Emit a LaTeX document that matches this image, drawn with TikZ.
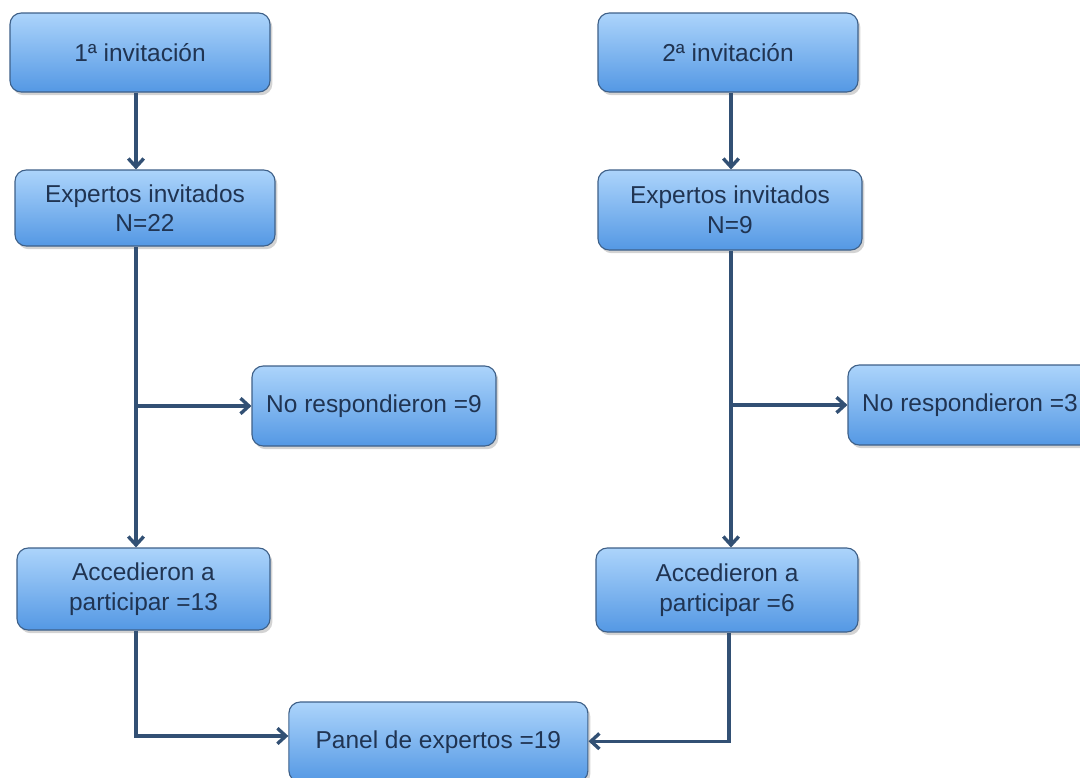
\documentclass[tikz,border=0pt]{standalone}
\usepackage{fontspec}
\setmainfont{Liberation Sans}
\usepackage{xcolor}
\usepackage{tikz}
\usetikzlibrary{arrows.meta, positioning, calc, shadows}
\definecolor{boxtop}{RGB}{172,212,251}
\definecolor{boxbot}{RGB}{84,152,228}
\definecolor{boxedge}{RGB}{62,96,136}
\definecolor{linkcol}{RGB}{50,80,116}
\definecolor{textcol}{RGB}{32,52,82}
\tikzset{
  stage/.style    = {rectangle, rounded corners=8pt, draw=boxedge, line width=0.8pt,
                     top color=boxtop, bottom color=boxbot,
                     minimum width=#1, minimum height=2cm, align=center,
                     font=\fontsize{17.4}{21}\selectfont\color{textcol},
                     drop shadow={shadow xshift=0.06cm, shadow yshift=-0.08cm,
                                  opacity=0.35}},
  stage/.default  = 6.5cm,
  arrow/.style    = {-{Straight Barb[length=6pt, width=11pt]},
                     line width=2.4pt, color=linkcol},
}
\begin{document}
\begin{tikzpicture}

  \useasboundingbox (0,0) rectangle (27,-19.425);

  %─── First invitation (left column) ────────────────────────────────────────
  \node[stage, minimum height=1.975cm] at (3.5, -1.3125)   (inv1) {1ª invitación};
  \node[stage, minimum height=1.9cm]   at (3.625, -5.2)    (exp1) {Expertos invitados\\N=22};
  \node[stage=6.1cm]                   at (9.35, -10.15)   (nr1)  {No respondieron =9};
  \node[stage=6.325cm, minimum height=2.05cm] at (3.5875, -14.725) (acc1) {Accedieron a\\participar =13};

  %─── Second invitation (right column) ──────────────────────────────────────
  \node[stage, minimum height=1.975cm] at (18.2, -1.3125)  (inv2) {2ª invitación};
  \node[stage=6.6cm]                   at (18.25, -5.25)   (exp2) {Expertos invitados\\N=9};
  \node[stage=6.1cm]                   at (24.25, -10.125) (nr2)  {No respondieron =3};
  \node[stage=6.55cm, minimum height=2.1cm] at (18.175, -14.75) (acc2) {Accedieron a\\participar =6};

  %─── Panel (bottom centre) ─────────────────────────────────────────────────
  \node[stage=7.475cm] at (10.96, -18.55) (panel) {Panel de expertos =19};

  %─── Spines ────────────────────────────────────────────────────────────────
  \coordinate (lspine) at (3.4, 0);
  \coordinate (rspine) at (18.275, 0);
  \coordinate (j1) at (lspine |- nr1.west);
  \coordinate (j2) at (rspine |- nr2.west);

  %─── Edges ─────────────────────────────────────────────────────────────────
  % Left column
  \draw[arrow] (inv1.south -| lspine) -- (exp1.north -| lspine);
  \draw[arrow] (exp1.south -| lspine) -- (acc1.north -| lspine);
  \draw[arrow] (j1) -- (nr1.west);

  % Right column
  \draw[arrow] (inv2.south -| rspine) -- (exp2.north -| rspine);
  \draw[arrow] (exp2.south -| rspine) -- (acc2.north -| rspine);
  \draw[arrow] (j2) -- (nr2.west);

  % Both columns into the panel
  \draw[arrow] (acc1.south -| lspine) |- ([yshift=0.15cm]panel.west);
  \draw[arrow] ([xshift=-0.05cm]acc2.south -| rspine) |- ([yshift=0.02cm]panel.east);

\end{tikzpicture}
\end{document}
